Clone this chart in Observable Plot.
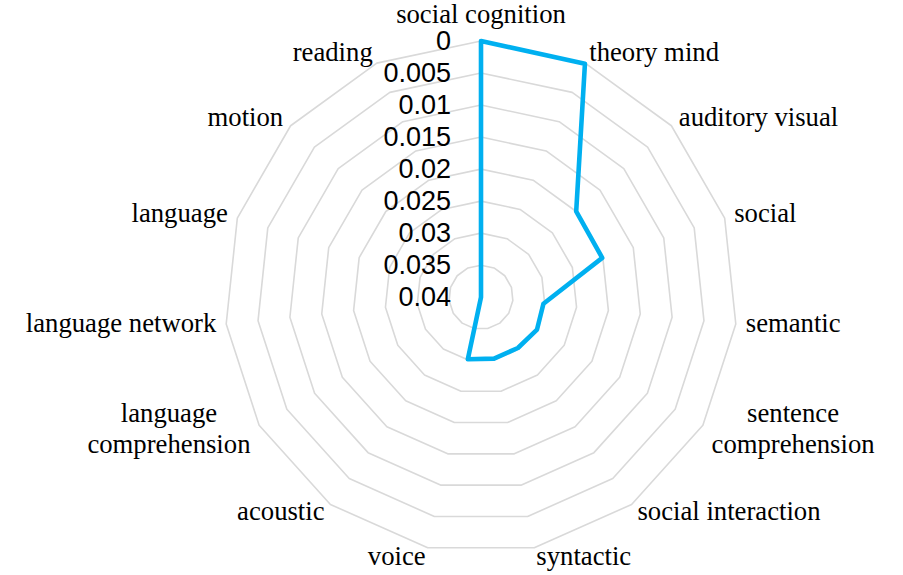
<!DOCTYPE html>
<html><head><meta charset="utf-8">
<script src="https://cdn.jsdelivr.net/npm/d3@7"></script>
<script src="https://cdn.jsdelivr.net/npm/@observablehq/plot@0.6"></script>
<style>body{margin:0;background:#fff}</style>
</head><body><div id="chart"></div>
<script>
const categories = ["social cognition", "theory mind", "auditory visual", "social", "semantic",
  "sentence\ncomprehension", "social interaction", "syntactic", "voice", "acoustic",
  "language\ncomprehension", "language network", "language", "motion", "reading"];
const values = [0, 0.0001, 0.0200, 0.0201, 0.0302, 0.0299, 0.0302, 0.0302, 0.0301,
  0.04, 0.04, 0.04, 0.04, 0.04, 0.04];
const tickValues = [0, 0.005, 0.01, 0.015, 0.02, 0.025, 0.03, 0.035, 0.04];
const tickLabels = ["0", "0.005", "0.01", "0.015", "0.02", "0.025", "0.03", "0.035", "0.04"];

// layout (pixels)
const W = 903, H = 575;
const cx = 480.5, cy = 296.7, R = 256.2;
const rScale = d3.scaleLinear().domain([0, 0.04]).range([R, 0]);
const n = categories.length;
const ang = i => i * 2 * Math.PI / n;
const pt = (i, v) => ({x: rScale(v) * Math.sin(ang(i)), y: rScale(v) * Math.cos(ang(i))});

const series = categories.map((c, i) => ({category: c, value: values[i], ...pt(i, values[i])}));
const rings = tickValues.filter(v => v < 0.04)
  .flatMap(v => categories.map((c, i) => ({ring: v, ...pt(i, v)})));
const ticks = tickValues.map((v, k) => ({label: tickLabels[k], x: 0, y: rScale(v)}));

const labelSize = 26.7;
const ctx = document.createElement("canvas").getContext("2d");
ctx.font = `${labelSize}px 'Liberation Serif'`;
const labels = categories.map((c, i) => {
  const a = ang(i), s = Math.sin(a), co = Math.cos(a);
  const lines = c.split("\n");
  const w = Math.max(...lines.map(l => ctx.measureText(l).width));
  const side = Math.abs(s) < 0.05 ? 0 : Math.sign(s);
  const d = side === 0 ? 18.5 : 10;
  return {text: c, x: (R + d) * s + side * w / 2, y: (R + d) * co, top: side === 0 && co > 0};
});

const serif = "'Liberation Serif', 'Times New Roman', serif";
const sans = "'Liberation Sans', Arial, sans-serif";

const chart = Plot.plot({
  width: W, height: H, margin: 0,
  x: {domain: [-cx, W - cx], axis: null},
  y: {domain: [-(H - cy), cy], axis: null},
  marks: [
    Plot.line(rings, {x: "x", y: "y", z: "ring", curve: "linear-closed", stroke: "#d9d9d9", strokeWidth: 1.6}),
    Plot.text(ticks, {x: "x", y: "y", text: "label", textAnchor: "end", dx: -30, fontFamily: sans, fontSize: 27, fill: "#000"}),
    Plot.text(labels.filter(d => !d.top), {x: "x", y: "y", text: "text", textAnchor: "middle", lineAnchor: "middle", lineHeight: 1.13, dy: -2.5, fontFamily: serif, fontSize: labelSize, fill: "#000"}),
    Plot.text(labels.filter(d => d.top), {x: "x", y: "y", text: "text", textAnchor: "middle", lineAnchor: "bottom", fontFamily: serif, fontSize: labelSize, fill: "#000"}),
    Plot.line(series, {x: "x", y: "y", curve: "linear-closed", stroke: "#00b0f0", strokeWidth: 4.6, strokeLinejoin: "round"})
  ]
});
document.getElementById("chart").appendChild(chart);
</script>
</body></html>
